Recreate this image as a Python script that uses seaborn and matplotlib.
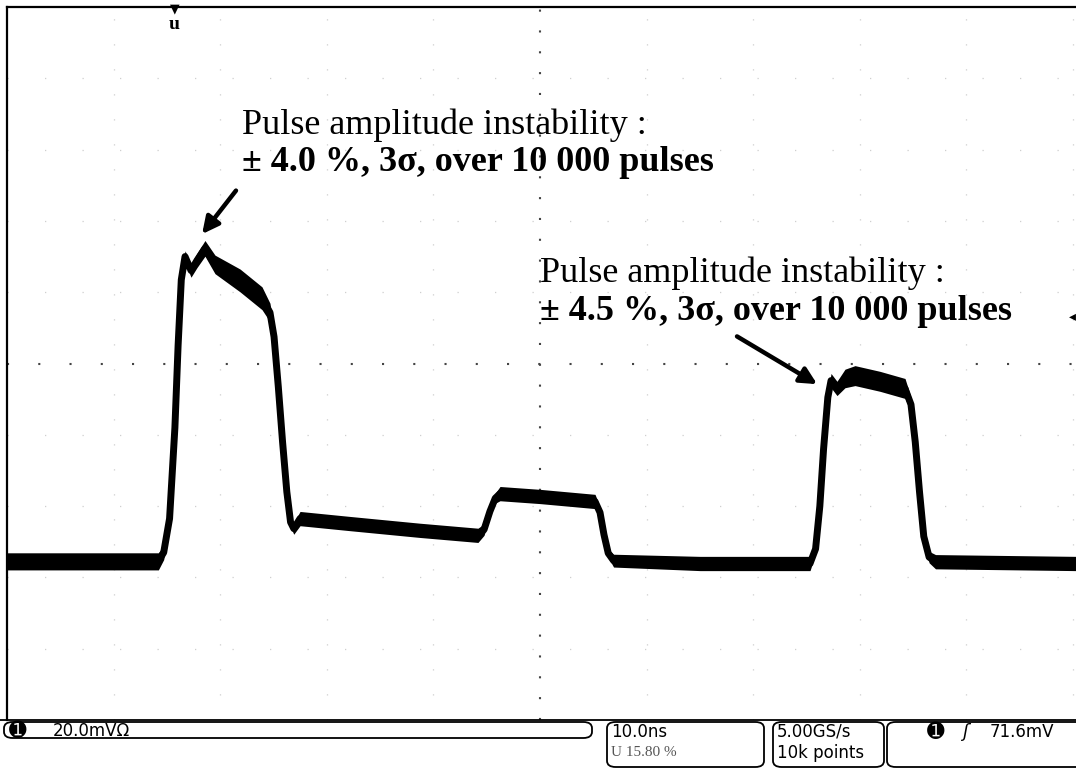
import numpy as np
import pandas as pd
import matplotlib.pyplot as plt
import seaborn as sns
from matplotlib.patches import FancyBboxPatch

# --- Trace (time in ns, level in mV, half band width in mV) ---
t_ns = [0.0, 14.2, 14.7, 15.25, 15.75, 16.05, 16.35, 16.7, 17.26, 17.82,
        18.57, 19.51, 21.86, 23.92, 24.67, 25.05, 25.45, 25.85, 26.25, 26.6,
        26.9, 27.49, 32.18, 38.74, 44.18, 44.75, 45.3, 45.8, 46.25, 50.0,
        55.16, 55.63, 56.0, 56.4, 56.9, 65.01, 75.33, 75.85, 76.25, 76.6,
        77.0, 77.3, 77.86, 78.61, 79.55, 81.89, 84.24, 84.8, 85.2, 85.6,
        86.0, 86.5, 87.1, 100.3]
level_mv = [-55.5, -55.5, -53.0, -43.5, -18.0, 5.0, 23.5, 30.0, 26.1, 28.9,
            32.3, 27.8, 23.3, 18.3, 14.3, 7.5, -6.5, -22.0, -36.0, -44.5,
            -46.3, -43.5, -44.9, -46.8, -48.2, -46.6, -41.5, -37.8, -36.5, -37.3,
            -38.7, -41.8, -48.0, -53.2, -55.3, -56.1, -56.1, -52.0, -40.0, -24.0,
            -9.5, -4.8, -7.0, -4.2, -3.4, -5.0, -7.0, -11.5, -22.0, -36.0,
            -48.5, -54.3, -55.6, -56.1]
band_mv = [2.4, 2.4, 2.0, 1.2, 1.1, 1.1, 1.2, 1.6, 1.9, 2.0,
           2.2, 2.6, 3.2, 3.2, 2.6, 1.6, 1.1, 1.1, 1.1, 1.4,
           1.6, 2.0, 2.0, 2.0, 2.0, 1.6, 1.2, 1.4, 2.0, 2.0,
           2.0, 1.6, 1.2, 1.2, 1.8, 2.0, 2.0, 1.4, 1.1, 1.1,
           1.4, 2.0, 2.0, 2.6, 2.8, 2.8, 2.8, 2.0, 1.1, 1.1,
           1.2, 1.6, 2.0, 2.0]

notes = [
    ("Pulse amplitude instability :", "\u00b1 4.0 %, 3\u03c3, over 10 000 pulses"),
    ("Pulse amplitude instability :", "\u00b1 4.5 %, 3\u03c3, over 10 000 pulses"),
]
note_pos = [(22.05, 64.5, 54.1), (50.0, 23.0, 12.1)]
arrows = [((21.48, 48.5), (18.3, 36.3)), ((68.48, 7.6), (76.0, -5.8))]

status = ["20.0mV\u03a9", "10.0ns", "U 15.80 %", "5.00GS/s", "10k points", "71.6mV"]

df = pd.DataFrame({"t": t_ns, "v": level_mv, "hw": band_mv})

W, H = 1076, 771
fig = plt.figure(figsize=(W / 100, H / 100), dpi=100)
sns.set_style("white")
plt.rcParams["font.family"] = ["DejaVu Sans"]
plt.rcParams["text.color"] = "black"

ax = fig.add_axes([7 / W, (H - 720) / H, 1069 / W, 713 / H])
ax.set_xlim(0, 100.28)
ax.set_ylim(-100, 100)
ax.set_xticks([])
ax.set_yticks([])
for s in ["right", "bottom"]:
    ax.spines[s].set_visible(False)
ax.spines["left"].set_linewidth(1.6)
ax.spines["top"].set_linewidth(1.6)
ax.spines["left"].set_color("black")
ax.spines["top"].set_color("black")
ax.spines["left"].set_linestyle((0, (4, 1)))

# graticule: 10 x 10 divisions, faint dots, centre cross darker
for gx in range(10, 101, 10):
    c, lw = ("#444444", 1.5) if gx == 50 else ("#cfcfcf", 0.9)
    ax.axvline(gx, color=c, lw=lw, ls=(0, (1, 9)) if gx == 50 else (0, (1, 19)), zorder=0)
for gy in range(-80, 100, 20):
    c, lw = ("#444444", 1.5) if gy == 0 else ("#cfcfcf", 0.9)
    ax.axhline(gy, color=c, lw=lw, ls=(0, (1, 14)) if gy == 0 else (0, (1, 29)), zorder=0)

# trace: noisy band + centre line
ax.fill_between(df["t"], df["v"] - df["hw"], df["v"] + df["hw"], color="black", lw=0, zorder=3)
sns.lineplot(data=df, x="t", y="v", ax=ax, color="black", lw=5, sort=False, zorder=4)
ax.set_xlabel("")
ax.set_ylabel("")

# annotations
for (l1, l2), (tx, y1, y2) in zip(notes, note_pos):
    ax.text(tx, y1, l1, family="Liberation Serif", fontsize=26, color="black",
            va="baseline", ha="left", zorder=5)
    ax.text(tx, y2, l2, family="Liberation Serif", fontsize=26, fontweight="bold", color="black",
            va="baseline", ha="left", zorder=5)
for tail, head in arrows:
    ax.annotate("", xy=head, xytext=tail,
                arrowprops=dict(arrowstyle="-|>,head_length=1.0,head_width=0.5",
                                lw=3.2, color="black", shrinkA=0, shrinkB=0), zorder=5)

# trigger position marker at the top and level marker at the right edge
ax.text(15.7, 99.5, "\u25bc", fontsize=9, ha="center", va="center", zorder=6, clip_on=False)
ax.text(15.7, 95.0, "u", family="Liberation Serif", fontweight="bold", fontsize=14,
        ha="center", va="center", zorder=6)
ax.text(100.28, 13.2, "\u25c2", fontsize=10, ha="right", va="center", zorder=6)


# --- status bar ---
def fx(x):
    return x / W


def fy(y):
    return 1 - y / H


def box(x0, y0, x1, y1):
    p = FancyBboxPatch((fx(x0), fy(y1)), fx(x1) - fx(x0), fy(y0) - fy(y1),
                       boxstyle="round,pad=0,rounding_size=0.008",
                       transform=fig.transFigure, fill=False, lw=1.3, ec="black")
    fig.patches.append(p)


box(4, 722, 592, 738)
box(607, 722, 764, 767)
box(773, 722, 884, 767)
box(887, 722, 1090, 767)
fig.lines.append(plt.Line2D([0, 1], [fy(720), fy(720)], transform=fig.transFigure,
                            color="black", lw=1.3))

fig.text(fx(9), fy(731), "\u278a", fontsize=15, va="center", ha="left")
fig.text(fx(53), fy(731), status[0], fontsize=12, va="center", ha="left")
fig.text(fx(611), fy(732), status[1], fontsize=12, va="center", ha="left")
fig.text(fx(611), fy(753), status[2], family="Liberation Serif", fontsize=11, color="#555555",
         va="center", ha="left")
fig.text(fx(777), fy(732), status[3], fontsize=12, va="center", ha="left")
fig.text(fx(777), fy(753), status[4], fontsize=12, va="center", ha="left")
fig.text(fx(927), fy(732), "\u278a", fontsize=15, va="center", ha="left")
fig.text(fx(962), fy(732), "\u0283", fontsize=13, va="center", ha="left", style="italic")
fig.text(fx(990), fy(732), status[5], fontsize=12, va="center", ha="left")

fig.savefig("out.png", dpi=100)
